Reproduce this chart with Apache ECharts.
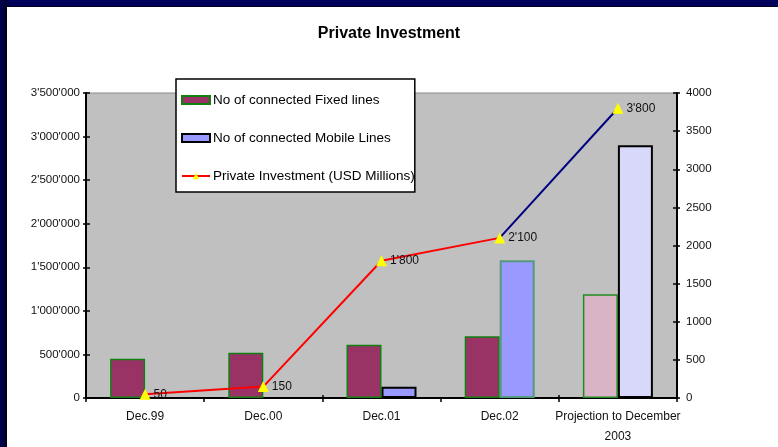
<!DOCTYPE html>
<html>
<head>
<meta charset="utf-8">
<script src="https://cdn.jsdelivr.net/npm/echarts@6/dist/echarts.min.js"></script>
<style>
  html, body { margin: 0; padding: 0; background: #ffffff; }
  #chart { width: 778px; height: 447px; }
</style>
</head>
<body>
<div id="chart"></div>
<script>
// Period labels along the bottom axis
const categories = ['Dec.99', 'Dec.00', 'Dec.01', 'Dec.02', 'Projection to December\n2003'];

// Connected lines (left axis)
const fixedLines = [450000, 520000, 610000, 710000, 1190000];
const mobileLines = [null, null, 130000, 1580000, 2900000];

// Private investment in USD millions (right axis)
const investment = [50, 150, 1800, 2100, 3800];

// Axis ranges
const leftAxisMax = 3500000;
const leftAxisStep = 500000;
const rightAxisMax = 4000;
const rightAxisStep = 500;

const FONT = '"Liberation Sans", Arial, sans-serif';

function withQuotes(v) {
  return String(v).replace(/\B(?=(\d{3})+(?!\d))/g, "'");
}

// Fixed lines: the projection bar is drawn in a lighter tint
const fixedData = fixedLines.map((v, i) => i === 4
  ? { value: v, itemStyle: { color: '#d8b4c6', borderColor: '#1f8a1f' } }
  : v);

// Mobile lines: Dec.02 has a teal outline, projection is pale lavender
const mobileData = mobileLines.map((v, i) => {
  if (i === 3) return { value: v, itemStyle: { borderColor: '#559a7c' } };
  if (i === 4) return { value: v, itemStyle: { color: '#d8d8fa', borderColor: '#000000' } };
  return v;
});

// The investment line is red up to Dec.02, then navy towards the projection
const redPart = investment.map((v, i) => i <= 3 ? v : null);
const navyPart = investment.map((v, i) => {
  if (i < 3) return null;
  if (i === 3) return { value: v, symbol: 'none', label: { show: false } };
  return v;
});

const chart = echarts.init(document.getElementById('chart'));

const valueLabel = {
  show: true,
  position: 'right',
  distance: 3,
  fontFamily: FONT,
  fontSize: 12,
  color: '#111111',
  formatter: p => withQuotes(p.value)
};

chart.setOption({
  animation: false,
  backgroundColor: '#ffffff',
  textStyle: { fontFamily: FONT },
  graphic: [
    { type: 'rect', left: 0, top: 0, shape: { width: 778, height: 6 }, style: { fill: '#00005c' }, z: 100 },
    { type: 'rect', left: 0, top: 6, shape: { width: 778, height: 1 }, style: { fill: '#000018' }, z: 100 },
    { type: 'rect', left: 0, top: 0, shape: { width: 5, height: 447 }, style: { fill: '#000048' }, z: 100 },
    { type: 'rect', left: 5, top: 0, shape: { width: 2, height: 447 }, style: { fill: '#000010' }, z: 100 }
  ],
  title: {
    text: 'Private Investment',
    left: 'center',
    top: 21,
    textStyle: { fontFamily: FONT, fontSize: 16, fontWeight: 'bold', color: '#000000' }
  },
  legend: {
    orient: 'vertical',
    left: 176,
    top: 79,
    width: 234,
    padding: [14, 0, 9, 5],
    itemGap: 24,
    itemWidth: 28,
    itemHeight: 8,
    backgroundColor: '#ffffff',
    borderColor: '#000000',
    borderWidth: 1.5,
    borderRadius: 0,
    textStyle: { fontFamily: FONT, fontSize: 13.5, color: '#000000', padding: [0, 0, 0, -2] },
    data: [
      { name: 'No of connected Fixed lines', icon: 'rect' },
      { name: 'No of connected Mobile Lines', icon: 'rect' },
      'Private Investment (USD Millions)'
    ]
  },
  grid: {
    left: 86,
    right: 101,
    top: 93,
    bottom: 48,
    show: true,
    backgroundColor: '#c0c0c0',
    borderColor: '#8a8a8a',
    borderWidth: 1
  },
  xAxis: [
    {
      type: 'category',
      data: categories,
      position: 'bottom',
      axisLine: { lineStyle: { color: '#000000', width: 2 } },
      axisTick: { show: true, length: 4, lineStyle: { color: '#000000', width: 1.5 } },
      axisLabel: { margin: 9, fontFamily: FONT, fontSize: 12, color: '#111111', lineHeight: 20, interval: 0 },
      splitLine: { show: false }
    },
    {
      type: 'category',
      data: categories,
      position: 'bottom',
      axisLine: { show: false },
      axisTick: { show: true, inside: true, length: 3, lineStyle: { color: '#000000', width: 1.5 } },
      axisLabel: { show: false },
      splitLine: { show: false }
    }
  ],
  yAxis: [
    {
      type: 'value',
      position: 'left',
      min: 0,
      max: leftAxisMax,
      interval: leftAxisStep,
      axisLine: { show: true, lineStyle: { color: '#000000', width: 2 } },
      axisTick: { show: true, length: 3, lineStyle: { color: '#000000', width: 1.5 } },
      axisLabel: { margin: 6, fontFamily: FONT, fontSize: 11.5, color: '#111111', formatter: withQuotes },
      splitLine: { show: false }
    },
    {
      type: 'value',
      position: 'right',
      min: 0,
      max: rightAxisMax,
      interval: rightAxisStep,
      axisLine: { show: true, lineStyle: { color: '#000000', width: 2 } },
      axisTick: { show: true, length: 3, lineStyle: { color: '#000000', width: 1.5 } },
      axisLabel: { margin: 9, fontFamily: FONT, fontSize: 11.5, color: '#111111', formatter: v => String(v) },
      splitLine: { show: false }
    },
    {
      type: 'value',
      position: 'left',
      min: 0,
      max: leftAxisMax,
      interval: leftAxisStep,
      axisLine: { show: false },
      axisTick: { show: true, inside: true, length: 4, lineStyle: { color: '#000000', width: 1.5 } },
      axisLabel: { show: false },
      splitLine: { show: false }
    },
    {
      type: 'value',
      position: 'right',
      min: 0,
      max: rightAxisMax,
      interval: rightAxisStep,
      axisLine: { show: false },
      axisTick: { show: true, inside: true, length: 4, lineStyle: { color: '#000000', width: 1.5 } },
      axisLabel: { show: false },
      splitLine: { show: false }
    }
  ],
  series: [
    {
      name: 'No of connected Fixed lines',
      type: 'bar',
      yAxisIndex: 0,
      barWidth: 35,
      barGap: '0%',
      itemStyle: { color: '#993366', borderColor: '#108010', borderWidth: 1.5 },
      data: fixedData
    },
    {
      name: 'No of connected Mobile Lines',
      type: 'bar',
      yAxisIndex: 0,
      barWidth: 35,
      barGap: '0%',
      itemStyle: { color: '#9999ff', borderColor: '#000000', borderWidth: 2 },
      data: mobileData
    },
    {
      name: 'Private Investment (USD Millions)',
      type: 'line',
      yAxisIndex: 1,
      z: 4,
      symbol: 'triangle',
      symbolSize: 11,
      itemStyle: { color: '#ffff00' },
      lineStyle: { color: '#ff0000', width: 2 },
      label: valueLabel,
      data: redPart
    },
    {
      name: 'Private Investment (projection)',
      type: 'line',
      yAxisIndex: 1,
      z: 3,
      symbol: 'triangle',
      symbolSize: 11,
      itemStyle: { color: '#ffff00' },
      lineStyle: { color: '#000080', width: 2 },
      label: valueLabel,
      data: navyPart
    }
  ]
});
</script>
</body>
</html>
